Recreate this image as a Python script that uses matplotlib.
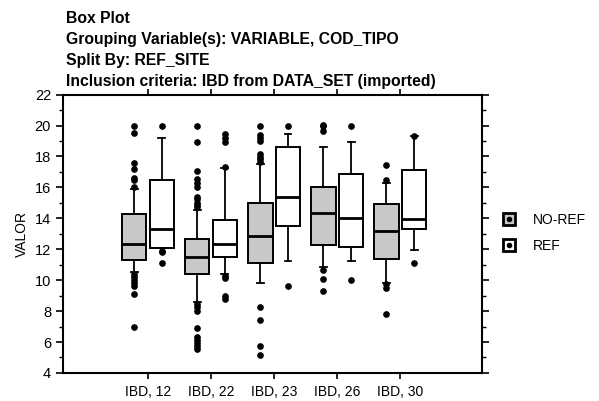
import numpy as np
import matplotlib
matplotlib.use('Agg')
import matplotlib.pyplot as plt
from matplotlib.lines import Line2D

plt.rcParams['font.family'] = ['Liberation Sans', 'DejaVu Sans']

categories = ['IBD, 12', 'IBD, 22', 'IBD, 23', 'IBD, 26', 'IBD, 30']
series = ['NO-REF', 'REF']

# box stats per category: lower whisker, q1, median, q3, upper whisker
noref_whislo = [10.5, 8.6, 9.8, 10.85, 9.8]
noref_q1 = [11.3, 10.4, 11.13, 12.28, 11.39]
noref_med = [12.34, 11.5, 12.84, 14.33, 13.18]
noref_q3 = [14.31, 12.64, 14.96, 16.02, 14.9]
noref_whishi = [15.9, 14.53, 17.52, 18.64, 16.3]
noref_fliers = [
    [20.0, 19.5, 17.6, 17.2, 16.6, 16.5, 16.0, 10.4, 10.2, 10.0, 9.8, 9.6, 9.1, 7.0],
    [20.0, 18.95, 17.06, 16.54, 16.26, 16.0, 15.39, 15.26, 15.0, 14.85, 14.7,
     8.47, 8.25, 7.99, 6.88, 6.34, 6.13, 5.93, 5.74, 5.54],
    [20.0, 19.36, 19.19, 19.01, 18.17, 17.99, 17.84, 17.67, 8.29, 7.44, 5.71, 5.19],
    [20.05, 19.97, 19.68, 10.67, 10.09, 9.33],
    [17.43, 16.48, 9.76, 9.5, 7.84],
]

ref_whislo = [12.05, 10.39, 11.21, 11.21, 11.97]
ref_q1 = [12.08, 11.52, 13.49, 12.17, 13.29]
ref_med = [13.31, 12.34, 15.39, 14.05, 13.96]
ref_q3 = [16.5, 13.86, 18.64, 16.87, 17.15]
ref_whishi = [19.2, 17.26, 19.45, 18.95, 19.32]
ref_fliers = [
    [20.0, 11.9, 11.8, 11.13],
    [19.45, 19.19, 18.95, 17.34, 10.28, 10.15, 9.0, 8.81],
    [20.0, 9.61],
    [20.0, 9.98],
    [19.3, 11.13],
]


def make_stats(lo, q1, med, q3, hi, fl):
    return [dict(whislo=a, q1=b, med=c, q3=d, whishi=e, fliers=f)
            for a, b, c, d, e, f in zip(lo, q1, med, q3, hi, fl)]


fig = plt.figure(figsize=(5.99, 4.01), dpi=100)
ax = fig.add_axes([0.105, 0.07, 0.7, 0.694])

x = np.arange(len(categories))
off = 0.22
w = 0.39
fills = ['#c8c8c8', 'white']
all_stats = [make_stats(noref_whislo, noref_q1, noref_med, noref_q3, noref_whishi, noref_fliers),
             make_stats(ref_whislo, ref_q1, ref_med, ref_q3, ref_whishi, ref_fliers)]

for k, stats in enumerate(all_stats):
    pos = x + (-off if k == 0 else off)
    ax.bxp(stats, positions=pos, widths=w, patch_artist=True, capwidths=0.11,
           boxprops=dict(facecolor=fills[k], edgecolor='black', linewidth=1.4),
           medianprops=dict(color='black', linewidth=2.0),
           whiskerprops=dict(color='black', linewidth=1.3),
           capprops=dict(color='black', linewidth=1.3),
           flierprops=dict(marker='o', markerfacecolor='black', markeredgecolor='black',
                           markersize=3.8))

ax.set_xlim(-1.35, 5.3)
ax.set_ylim(4, 22)
ax.set_xticks(x)
ax.set_xticklabels(categories, fontsize=10)
ax.set_yticks(np.arange(4, 23, 2))
ax.set_yticks(np.arange(5, 22, 2), minor=True)
ax.tick_params(axis='y', which='major', labelsize=10.5, length=5, width=1.2,
               direction='out', right=True)
ax.tick_params(axis='y', which='minor', length=3, width=1.0, direction='out', right=True)
ax.tick_params(axis='x', which='major', length=4, width=1.2, direction='out',
               top=True, pad=5)
for s in ax.spines.values():
    s.set_linewidth(1.5)
ax.set_ylabel('VALOR', fontsize=10, labelpad=4)

title = ('Box Plot\nGrouping Variable(s): VARIABLE, COD_TIPO\nSplit By: REF_SITE\n'
         'Inclusion criteria: IBD from DATA_SET (imported)')
fig.text(0.11, 0.972, title, fontsize=11.3, fontweight='bold', ha='left', va='top',
         linespacing=1.5)

handles = []
for k in range(2):
    sq = Line2D([], [], marker='s', linestyle='none', markersize=8.5,
                markerfacecolor=fills[k], markeredgecolor='black', markeredgewidth=2)
    dot = Line2D([], [], marker='o', linestyle='none', markersize=3,
                 markerfacecolor='black', markeredgecolor='black')
    handles.append((sq, dot))
fig.legend(handles, series, loc='upper left', bbox_to_anchor=(0.817, 0.5),
           frameon=False, fontsize=10, handlelength=1.0, labelspacing=0.85,
           handletextpad=1.2)

fig.savefig('out.png', dpi=100)
